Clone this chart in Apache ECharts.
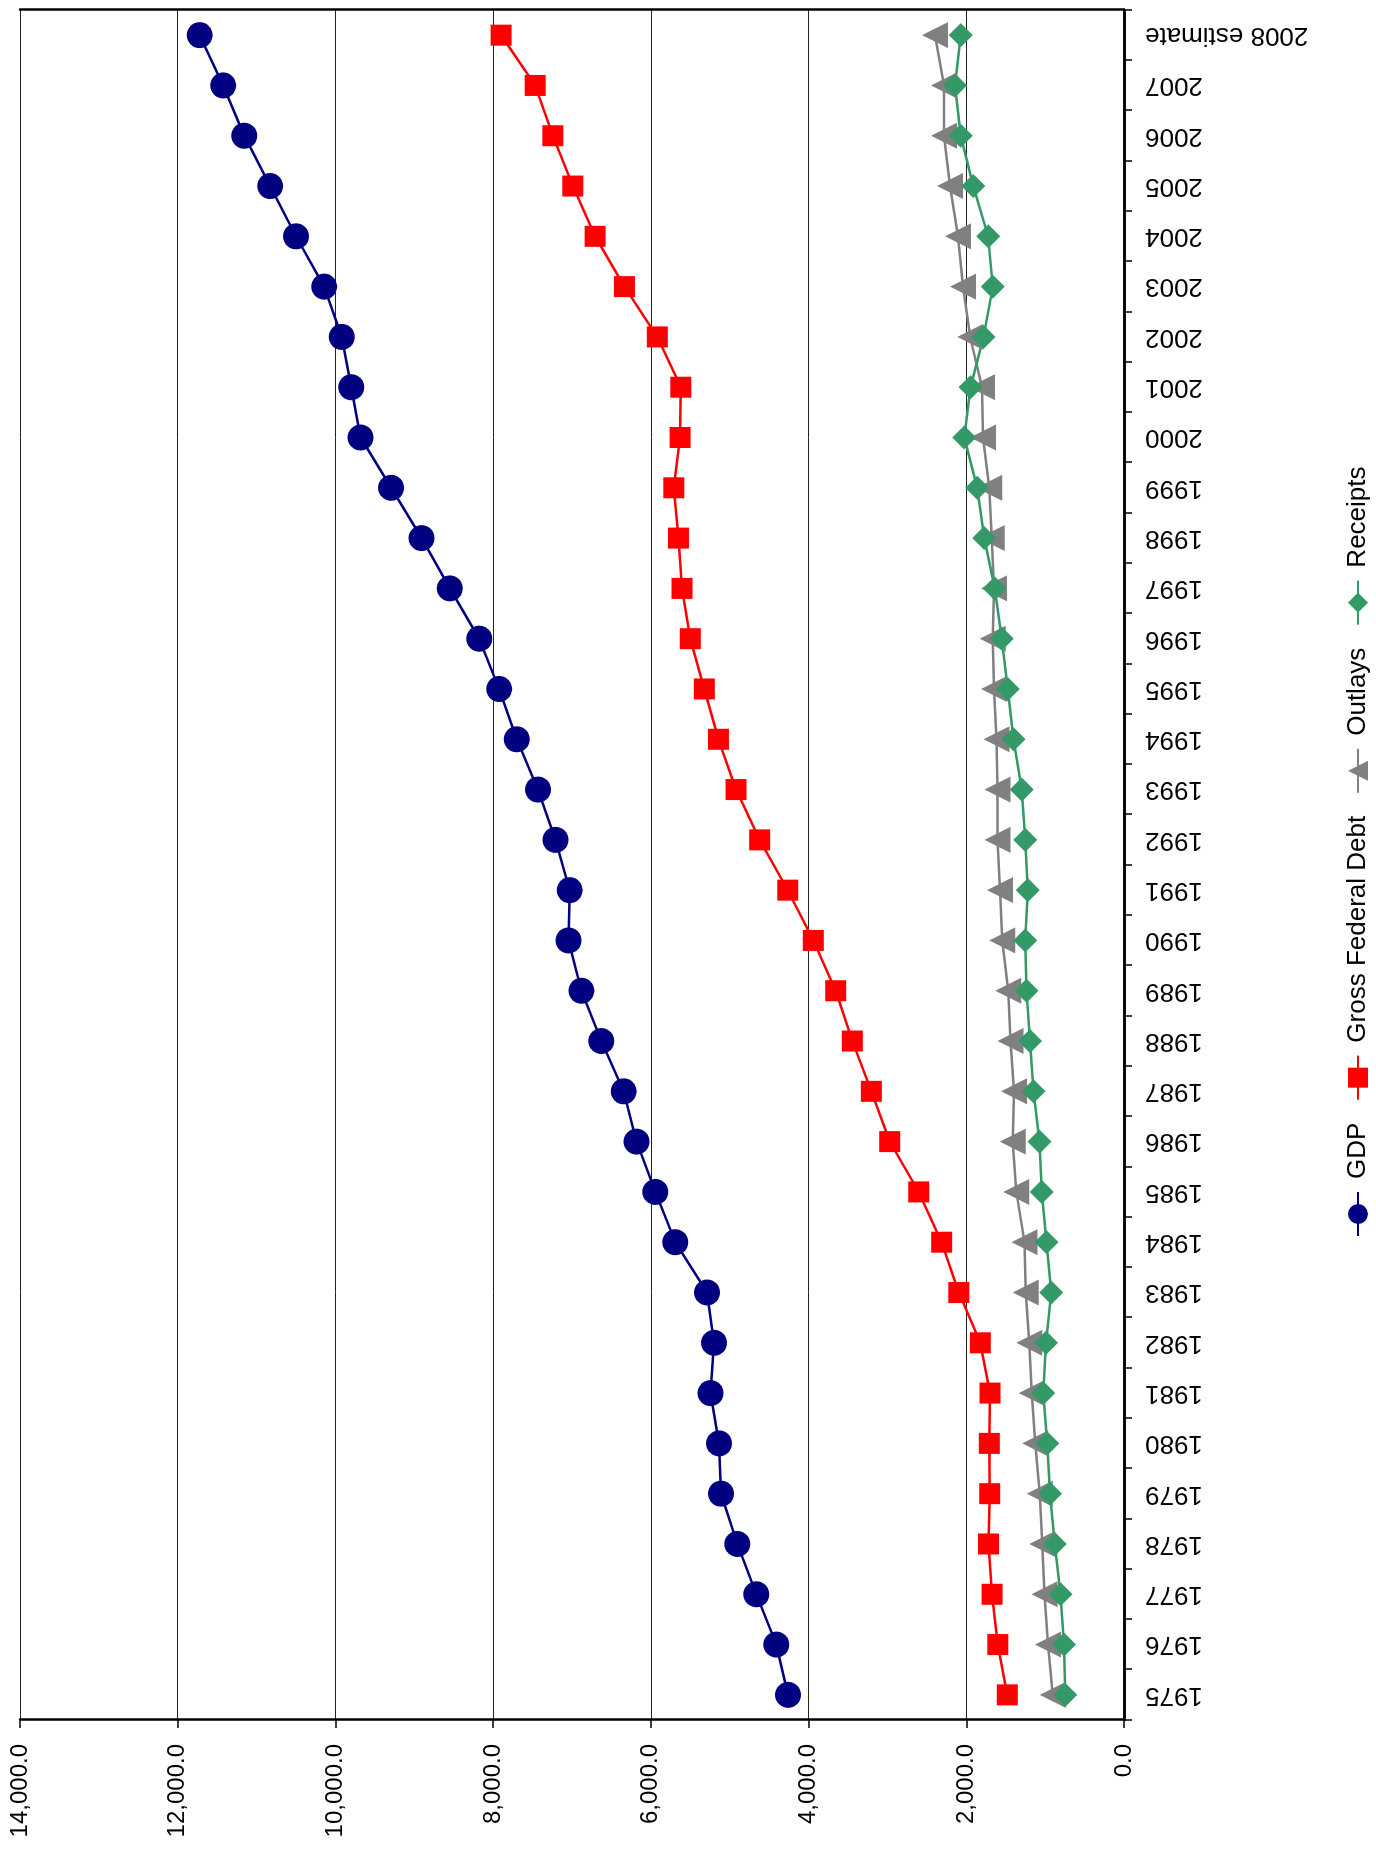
<!DOCTYPE html>
<html>
<head>
<meta charset="utf-8">
<script src="https://cdn.jsdelivr.net/npm/echarts@6/dist/echarts.min.js"></script>
<style>
html, body { margin: 0; padding: 0; background: #fff; width: 1376px; height: 1849px; overflow: hidden; }
#chart { position: absolute; left: 0; top: 0; width: 1849px; height: 1376px;
  transform-origin: 0 0; transform: translateY(1849px) rotate(-90deg); background: #fff; }
</style>
</head>
<body>
<div id="chart"></div>
<script>
const categories = ['1975','1976','1977','1978','1979','1980','1981','1982','1983','1984','1985','1986','1987','1988','1989','1990','1991','1992','1993','1994','1995','1996','1997','1998','1999','2000','2001','2002','2003','2004','2005','2006','2007','2008 estimate'];

const gdp = [4260, 4409, 4662, 4903, 5110, 5135, 5243, 5198, 5287, 5690, 5943, 6181, 6345, 6628, 6881, 7045, 7030, 7209, 7432, 7700, 7924, 8177, 8549, 8907, 9294, 9681, 9800, 9920, 10143, 10500, 10828, 11156, 11424, 11722];

const grossFederalDebt = [1480, 1600, 1673, 1718, 1703, 1708, 1699, 1822, 2095, 2312, 2603, 2971, 3204, 3445, 3656, 3940, 4264, 4620, 4920, 5143, 5322, 5500, 5605, 5650, 5709, 5629, 5620, 5918, 6335, 6707, 6990, 7243, 7467, 7899];

const outlays = [903, 963, 1008, 1037, 1067, 1125, 1171, 1201, 1246, 1261, 1365, 1410, 1395, 1440, 1469, 1544, 1574, 1603, 1603, 1618, 1648, 1663, 1648, 1678, 1708, 1789, 1800, 1951, 2041, 2105, 2206, 2282, 2282, 2397];

const receipts = [745, 760, 805, 878, 938, 972, 1023, 989, 923, 983, 1042, 1072, 1147, 1191, 1236, 1251, 1221, 1251, 1296, 1400, 1474, 1549, 1638, 1772, 1861, 2025, 1946, 1782, 1663, 1723, 1911, 2071, 2143, 2071];

const seriesNames = ['GDP', 'Gross Federal Debt', 'Outlays', 'Receipts'];

const FONT = "'Liberation Sans', Arial, sans-serif";
const chart = echarts.init(document.getElementById('chart'));

function mkSeries(name, data, color, symbol, size, width) {
  return {
    name: name, type: 'line', data: data,
    symbol: symbol, symbolSize: size,
    itemStyle: { color: color },
    lineStyle: { color: color, width: width },
    emphasis: { disabled: true }
  };
}

chart.setOption({
  animation: false,
  backgroundColor: '#fff',
  textStyle: { fontFamily: FONT },
  grid: { left: 129, right: 10, top: 20, bottom: 252, containLabel: false },
  legend: {
    data: seriesNames,
    left: 607, top: 1340,
    itemWidth: 44, itemHeight: 25, itemGap: 22,
    textStyle: { fontSize: 26, color: '#000', fontFamily: FONT, padding: [0, 0, 0, 8] }
  },
  xAxis: [{
    type: 'category', data: categories, boundaryGap: true, position: 'bottom',
    axisLine: { show: true, lineStyle: { color: '#000', width: 2.5 } },
    axisTick: { show: true, length: 8, lineStyle: { color: '#000', width: 1.5 } },
    axisLabel: { rotate: 90, interval: 0, fontSize: 26, color: '#000', margin: 21, fontFamily: FONT },
    splitLine: { show: false }
  }, {
    type: 'category', data: categories, boundaryGap: true, position: 'top',
    axisLine: { show: true, lineStyle: { color: '#000', width: 2.5 } },
    axisTick: { show: false }, axisLabel: { show: false }, splitLine: { show: false }
  }],
  yAxis: [{
    type: 'value', min: 0, max: 14000, interval: 2000, position: 'left',
    axisLine: { show: true, lineStyle: { color: '#000', width: 2.5 } },
    axisTick: { show: true, length: 8, lineStyle: { color: '#000', width: 1.5 } },
    axisLabel: {
      fontSize: 24, color: '#000', margin: 24, fontFamily: FONT,
      formatter: v => v.toLocaleString('en-US', { minimumFractionDigits: 1, maximumFractionDigits: 1 })
    },
    splitLine: { show: true, lineStyle: { color: '#222', width: 1 } }
  }, {
    type: 'value', min: 0, max: 14000, interval: 2000, position: 'right',
    axisLine: { show: true, lineStyle: { color: '#000', width: 2.5 } },
    axisTick: { show: false }, axisLabel: { show: false }, splitLine: { show: false }
  }],
  series: [
    mkSeries(seriesNames[0], gdp, '#000080', 'circle', 26, 2.5),
    mkSeries(seriesNames[1], grossFederalDebt, '#FF0000', 'rect', 21, 2.5),
    mkSeries(seriesNames[2], outlays, '#808080', 'triangle', 26, 2.5),
    mkSeries(seriesNames[3], receipts, '#339966', 'diamond', 24, 2.5)
  ]
});
</script>
</body>
</html>
